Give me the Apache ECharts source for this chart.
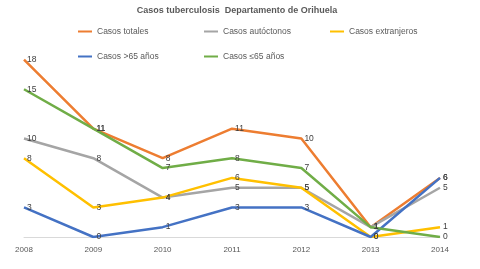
<!DOCTYPE html>
<html>
<head>
<meta charset="utf-8">
<script src="https://cdn.jsdelivr.net/npm/echarts@6/dist/echarts.min.js"></script>
<style>
  html, body { margin: 0; padding: 0; background: #fff; }
  #cn { width: 480px; height: 269px; }
</style>
</head>
<body>
<div id="cn"></div>
<script>
'use strict';

const arrYears = ['2008', '2009', '2010', '2011', '2012', '2013', '2014'];
const arrTotales = [18, 11, 8, 11, 10, 1, 6];
const arrAutoctonos = [10, 8, 4, 5, 5, 1, 5];
const arrExtranjeros = [8, 3, 4, 6, 5, 0, 1];
const arrMayor65 = [3, 0, 1, 3, 3, 0, 6];
const arrMenor65 = [15, 11, 7, 8, 7, 1, 0];

const strFont = 'Liberation Sans';
const txtColor = '#595959';

const chart = echarts.init(document.getElementById('cn'));

// leyenda en dos filas, columnas fijas
const legendPos = [
    { name: 'Casos totales', left: 78, top: 27 },
    { name: 'Casos autóctonos', left: 204, top: 27 },
    { name: 'Casos extranjeros', left: 330, top: 27 },
    { name: 'Casos >65 años', left: 78, top: 52 },
    { name: 'Casos ≤65 años', left: 204, top: 52 }
];

const mkSeries = (name, data, color) => ({
    name: name,
    type: 'line',
    data: data,
    showSymbol: true,
    symbol: 'circle',
    symbolSize: 0.1,
    lineStyle: { width: 2.5, color: color },
    itemStyle: { color: color },
    label: {
        show: true,
        position: 'right',
        distance: 3,
        fontFamily: strFont,
        fontSize: 8.5,
        color: '#404040'
    }
});

const option = {
    animation: false,
    title: {
        text: 'Casos tuberculosis  Departamento de Orihuela',
        left: 232,
        textAlign: 'center',
        top: 1,
        textStyle: {
            fontFamily: strFont,
            fontSize: 9,
            fontWeight: 'bold',
            color: txtColor
        }
    },
    legend: legendPos.map(l => ({
        data: [l.name],
        left: l.left,
        top: l.top,
        padding: 0,
        icon: 'rect',
        itemWidth: 14,
        itemHeight: 2,
        textStyle: { fontFamily: strFont, fontSize: 8.5, color: txtColor }
    })),
    grid: {
        left: 24,
        right: 40,
        top: 40,
        bottom: 32
    },
    xAxis: {
        type: 'category',
        data: arrYears,
        boundaryGap: false,
        axisLine: { lineStyle: { color: '#d9d9d9' } },
        axisTick: { show: false },
        axisLabel: {
            fontFamily: strFont,
            fontSize: 8,
            color: txtColor,
            margin: 9
        }
    },
    yAxis: {
        type: 'value',
        min: 0,
        max: 20,
        show: false,
        splitLine: { show: false }
    },
    series: [
        mkSeries('Casos totales', arrTotales, '#ED7D31'),
        mkSeries('Casos autóctonos', arrAutoctonos, '#A5A5A5'),
        mkSeries('Casos extranjeros', arrExtranjeros, '#FFC000'),
        mkSeries('Casos >65 años', arrMayor65, '#4472C4'),
        mkSeries('Casos ≤65 años', arrMenor65, '#70AD47')
    ]
};

chart.setOption(option);
</script>
</body>
</html>
